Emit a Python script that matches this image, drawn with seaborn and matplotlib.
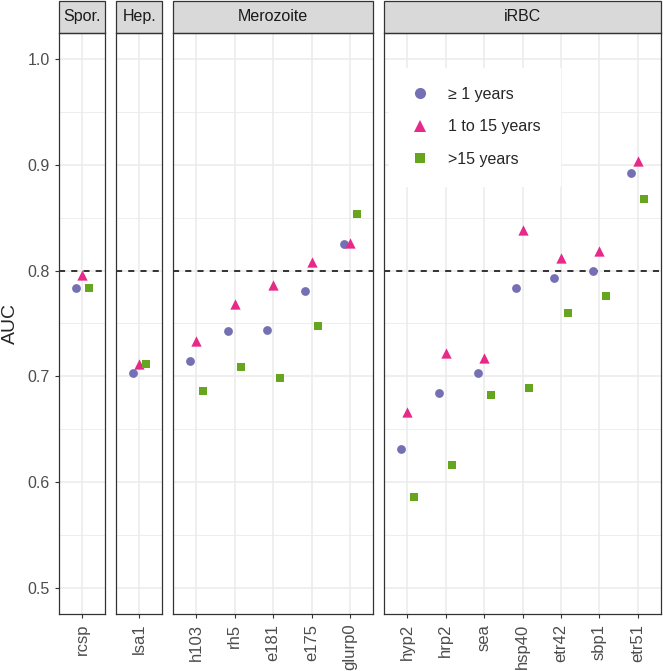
import numpy as np
import pandas as pd
import matplotlib
matplotlib.use("Agg")
import matplotlib.pyplot as plt
import seaborn as sns
from matplotlib.patches import Rectangle
from matplotlib.lines import Line2D

# ── Data ──────────────────────────────────────────────────────
stages = ["Spor.", "Hep.", "Merozoite", "iRBC"]
antigens = ["rcsp", "lsa1",
            "h103", "rh5", "e181", "e175", "glurp0",
            "hyp2", "hrp2", "sea", "hsp40", "etr42", "sbp1", "etr51"]
stage_of = ["Spor.", "Hep."] + ["Merozoite"] * 5 + ["iRBC"] * 7

groups = ["\u2265 1 years", "1 to 15 years", ">15 years"]
auc_all = [0.784, 0.703, 0.714, 0.743, 0.744, 0.781, 0.825,
           0.631, 0.684, 0.703, 0.784, 0.793, 0.800, 0.892]
auc_1_15 = [0.796, 0.712, 0.733, 0.768, 0.786, 0.808, 0.826,
            0.666, 0.722, 0.717, 0.838, 0.812, 0.819, 0.904]
auc_15 = [0.784, 0.712, 0.686, 0.709, 0.698, 0.748, 0.854,
          0.586, 0.616, 0.682, 0.689, 0.760, 0.776, 0.868]

palette = {groups[0]: "#7570B3", groups[1]: "#E7298A", groups[2]: "#66A61E"}
markers = {groups[0]: "o", groups[1]: "^", groups[2]: "s"}
sizes = {groups[0]: 40, groups[1]: 55, groups[2]: 38}
dodge = {groups[0]: -0.17, groups[1]: 0.0, groups[2]: 0.17}

rows = []
for g, vals in zip(groups, [auc_all, auc_1_15, auc_15]):
    for a, s, v in zip(antigens, stage_of, vals):
        rows.append({"antigen": a, "stage": s, "group": g, "AUC": v})
df = pd.DataFrame(rows)

# ── Plot ──────────────────────────────────────────────────────
sns.set_style("white")
plt.rcParams["font.family"] = ["Liberation Sans", "DejaVu Sans"]

n_per = [df[df.stage == s].antigen.nunique() for s in stages]
fig, axes = plt.subplots(1, 4, figsize=(6.63, 6.71), dpi=100,
                         gridspec_kw={"width_ratios": [n + 0.2 for n in n_per]})
fig.subplots_adjust(left=0.089, right=0.997, top=0.951, bottom=0.085, wspace=0.077)

grid_col = "#EBEBEB"
edge_col = "#333333"
strip_h = 32 / 581

for i, (ax, st) in enumerate(zip(axes, stages)):
    sub = df[df.stage == st].copy()
    order = [a for a in antigens if a in set(sub.antigen)]
    pos = {a: k for k, a in enumerate(order)}
    sub["x"] = sub.antigen.map(pos) + sub.group.map(dodge)

    # grid (theme_bw style)
    for yv in np.arange(0.55, 1.0, 0.1):
        ax.axhline(yv, color=grid_col, lw=0.6, zorder=0)
    for yv in np.arange(0.5, 1.01, 0.1):
        ax.axhline(yv, color=grid_col, lw=1.1, zorder=0)
    for k in range(len(order)):
        ax.axvline(k, color=grid_col, lw=1.1, zorder=0)

    ax.axhline(0.8, color="black", lw=1.1, ls=(0, (4, 4)), zorder=1)

    for g in groups:
        sg = sub[sub.group == g]
        sns.scatterplot(data=sg, x="x", y="AUC", color=palette[g],
                        marker=markers[g], s=sizes[g], linewidth=0,
                        ax=ax, zorder=3, legend=False)

    ax.set_xlim(-0.6, len(order) - 0.4)
    ax.set_ylim(0.475, 1.025)
    ax.set_xticks(range(len(order)))
    ax.set_xticklabels(order, rotation=90, fontsize=12, color="#4D4D4D")
    ax.set_xlabel("")
    ax.set_yticks(np.arange(0.5, 1.01, 0.1))
    if i == 0:
        ax.set_yticklabels([f"{v:.1f}" for v in np.arange(0.5, 1.01, 0.1)],
                           fontsize=11.5, color="#4D4D4D")
        ax.set_ylabel("AUC", fontsize=14, labelpad=6)
        ax.tick_params(axis="y", length=3, width=0.8, color=edge_col, left=True)
    else:
        ax.set_yticklabels([])
        ax.set_ylabel("")
        ax.tick_params(axis="y", length=0)
    ax.tick_params(axis="x", length=3, width=0.8, color=edge_col, bottom=True, pad=4)
    for sp in ax.spines.values():
        sp.set_color(edge_col)
        sp.set_linewidth(0.9)

    # facet strip
    ax.add_patch(Rectangle((0, 1), 1, strip_h, transform=ax.transAxes,
                           facecolor="#D9D9D9", edgecolor=edge_col, lw=0.9,
                           clip_on=False))
    ax.text(0.5, 1 + strip_h / 2, st, transform=ax.transAxes, ha="center",
            va="center", fontsize=11.5, color="#1A1A1A")

# legend inside iRBC panel
handles = [Line2D([], [], ls="", marker=markers[g], color=palette[g],
                  markersize=8 if g != groups[2] else 7.5, markeredgewidth=0)
           for g in groups]
leg = axes[3].legend(handles, groups, loc="upper left",
                     bbox_to_anchor=(0.018, 0.94), frameon=True, fancybox=False,
                     fontsize=11.5, labelspacing=1.1, handlelength=1.5,
                     handletextpad=1.0, borderpad=1.2, borderaxespad=0)
leg.get_frame().set_facecolor("white")
leg.get_frame().set_edgecolor("white")
leg.get_frame().set_alpha(1)

plt.savefig("out.png", dpi=100)
plt.close()
